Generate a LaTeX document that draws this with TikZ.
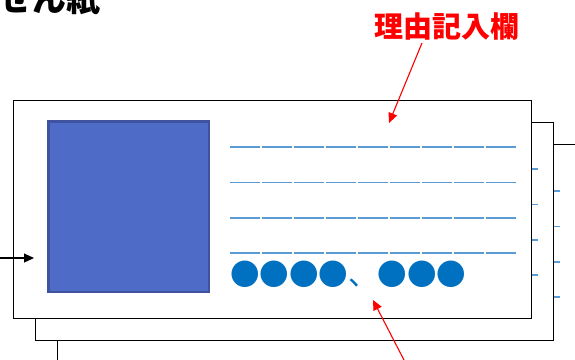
\documentclass[tikz,border=0pt]{standalone}
\usepackage{fontspec}
\newfontfamily\cjk{Noto Sans CJK JP}
\usetikzlibrary{arrows.meta}
\definecolor{lineblue}{RGB}{91,155,213}
\definecolor{dotblue}{RGB}{0,112,192}
\definecolor{boxfill}{RGB}{79,107,200}
\definecolor{boxedge}{RGB}{62,82,160}
\definecolor{labelred}{RGB}{255,0,0}
\tikzset{
  paper/.style={draw=black, fill=white, line width=1.2pt, minimum width=518pt, minimum height=218pt, inner sep=0pt, anchor=north west},
  rulebl/.style={draw=lineblue, line width=1.8pt, dash pattern=on 30pt off 2pt},
  photo/.style={draw=boxedge, fill=boxfill, line width=2.5pt, minimum width=160.5pt, minimum height=170.5pt, inner sep=0pt, anchor=north west},
  dotstext/.style={text=dotblue, inner sep=0pt, font=\cjk\fontsize{29.5}{30}\selectfont},
  redlabel/.style={text=labelred, inner sep=0pt, font=\cjk\bfseries\fontsize{29}{30}\selectfont},
  titletext/.style={text=black, inner sep=0pt, font=\cjk\bfseries\fontsize{34}{34}\selectfont},
  blackarrow/.style={draw=black, line width=1.1pt, -{Triangle[length=10pt,width=9pt]}},
  redarrow/.style={draw=labelred, line width=1.1pt, -{Triangle[length=10pt,width=9pt]}}
}
\begin{document}
\begin{tikzpicture}[x=1pt,y=-1pt]
\useasboundingbox (0,0) rectangle (575,359);
\foreach \o/\n in {44/c,22/b,0/a}{
  \node[paper] (paper\n) at (13+\o,100+\o) {};
  \foreach \yy in {147,182.5,218,253}{
    \draw[rulebl] (230+\o,\yy+\o) -- (516+\o,\yy+\o);
  }
}
\node[photo] (photo) at (47.25,120.25) {};
\node[dotstext, anchor=west] (dots) at (230,274) {●●●●、●●●};
\node[titletext, anchor=base east] (title) at (101,11) {付せん紙};
\node[redlabel] (label) at (447,27) {理由記入欄};
\coordinate (rsrc) at (422,43);
\coordinate (rtip) at (389,123);
\draw[redarrow] (rsrc) -- (rtip);
\coordinate (bsrc) at (405,362);
\coordinate (btip) at (373,300);
\draw[redarrow] (bsrc) -- (btip);
\coordinate (lsrc) at (-2,258);
\coordinate (ltip) at (34,258);
\draw[blackarrow] (lsrc) -- (ltip);
\end{tikzpicture}
\end{document}
